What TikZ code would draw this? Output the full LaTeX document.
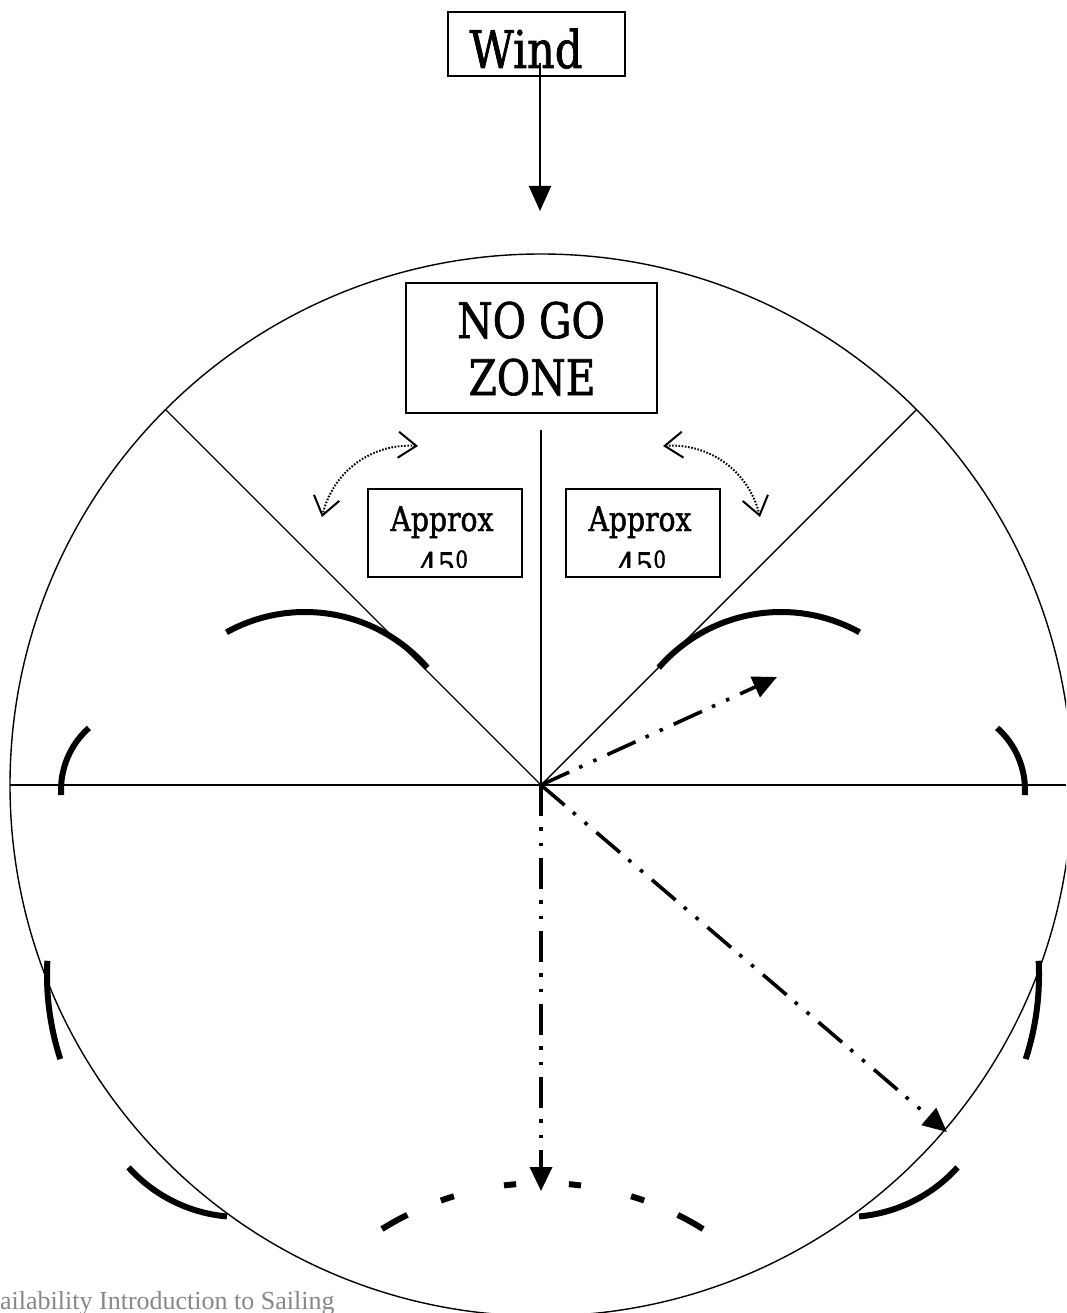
\documentclass[tikz,border=0pt]{standalone}
\usepackage{fontspec}
\setmainfont{DejaVu Serif}[FakeStretch=0.83,FakeBold=1.3]
\newfontfamily\footfont{Liberation Serif}
\usetikzlibrary{arrows.meta}
\tikzset{
  thinline/.style={line width=1.4pt},
  boxnode/.style={draw, line width=1.6pt, rectangle, inner sep=0pt},
  sail/.style={line width=6pt},
  course/.style={line width=3.6pt, dash pattern=on 31pt off 11pt on 3.5pt off 12pt on 3.5pt off 12pt,
     -{Triangle[length=24pt,width=22pt]}},
  swing/.style={line width=2pt, dash pattern=on 1.6pt off 1.6pt,
     {Straight Barb[length=18pt,width=26pt,line width=2pt]}-{Straight Barb[length=18pt,width=26pt,line width=2pt]}},
  bigtxt/.style={inner sep=0pt, anchor=base},
}
\begin{document}
\begin{tikzpicture}[x=1pt,y=1pt]
\clip (0,0) rectangle (1066,-1313);
\fill[white] (0,0) rectangle (1066,-1313);

% centre and circle
\coordinate (c) at (541,-785);
\draw[thinline] (c) circle[radius=531];
\coordinate (hl) at (10,-785);
\coordinate (hr) at (1066,-785);
\coordinate (vt) at (541,-430);
\coordinate (dl) at (166,-410);
\coordinate (dr) at (916,-410);
\draw[thinline] (hl) -- (hr);
\draw[thinline] (c) -- (vt);
\draw[thinline] (c) -- (dl);
\draw[thinline] (c) -- (dr);

% wind
\node[boxnode, minimum width=177pt, minimum height=64pt] (windbox) at (536.5,-44) {};
\node[bigtxt, font=\fontsize{52}{60}\selectfont] (windtxt) at (526,-68) {Wind};
\coordinate (w0) at (540,-63);
\coordinate (w1) at (540,-211);
\draw[line width=2pt, -{Triangle[length=25pt,width=22pt]}] (w0) -- (w1);

% no go zone
\node[boxnode, fill=white, minimum width=251pt, minimum height=130pt] (nogo) at (531.5,-348) {};
\node[bigtxt, font=\fontsize{49}{57}\selectfont] (nogo1) at (531,-338) {NO GO};
\node[bigtxt, font=\fontsize{49}{57}\selectfont] (nogo2) at (532,-395) {ZONE};

% approx boxes
\node[boxnode, minimum width=154pt, minimum height=88pt] (apL) at (445,-533) {};
\node[boxnode, minimum width=154pt, minimum height=88pt] (apR) at (643,-533) {};
\begin{scope}
\clip (369,-490) rectangle (521,-567);
\node[bigtxt, font=\fontsize{34}{46}\selectfont] (apL1) at (442,-531) {Approx};
\node[bigtxt, font=\fontsize{34}{46}\selectfont] (apL2) at (444,-577) {45\textsuperscript{0}};
\end{scope}
\begin{scope}
\clip (567,-490) rectangle (719,-567);
\node[bigtxt, font=\fontsize{34}{46}\selectfont] (apR1) at (640,-531) {Approx};
\node[bigtxt, font=\fontsize{34}{46}\selectfont] (apR2) at (642,-577) {45\textsuperscript{0}};
\end{scope}

% swing arrows
\coordinate (sl1) at (418,-446);
\coordinate (sl2) at (322,-517);
\coordinate (sr1) at (663,-446);
\coordinate (sr2) at (760,-517);
\draw[swing] (sl1) to[bend right=40] (sl2);
\draw[swing] (sr1) to[bend left=40] (sr2);

% sails
\draw[sail, shift={(305,-774)}] (119:162) arc[start angle=119, end angle=41, radius=162];
\draw[sail, shift={(781,-774)}] (139:162) arc[start angle=139, end angle=61, radius=162];
\draw[sail, shift={(144,-790)}] (131.6:83) arc[start angle=131.6, end angle=183.5, radius=83];
\draw[sail, shift={(942,-790)}] (48.4:83) arc[start angle=48.4, end angle=-3.5, radius=83];
\draw[sail, shift={(319,-975)}] (177:272) arc[start angle=177, end angle=198, radius=272];
\draw[sail, shift={(767,-975)}] (3:272) arc[start angle=3, end angle=-18, radius=272];
\draw[sail, shift={(240,-1067)}] (222:150) arc[start angle=222, end angle=265, radius=150];
\draw[sail, shift={(846,-1067)}] (318:150) arc[start angle=318, end angle=275, radius=150];
% dashed bottom sail
\begin{scope}[shift={(542.5,-1486)}]
\foreach \a/\b in {122/116.5, 109.6/107, 97.3/95, 85/82.7, 73/70.4, 63.5/58}
  \draw[sail] (\a:303) arc[start angle=\a, end angle=\b, radius=303];
\end{scope}

% courses
\coordinate (e1) at (777,-677);
\coordinate (e2) at (947,-1132);
\coordinate (e3) at (541,-1191);
\draw[course] (c) -- (e1);
\draw[course] (c) -- (e2);
\draw[course] (c) -- (e3);

% footer
\node[anchor=base west, inner sep=0pt, text=black!47, font=\footfont\fontsize{26}{30}\selectfont] (foot) at (0,-1309) {ailability Introduction to Sailing};
\end{tikzpicture}
\end{document}
